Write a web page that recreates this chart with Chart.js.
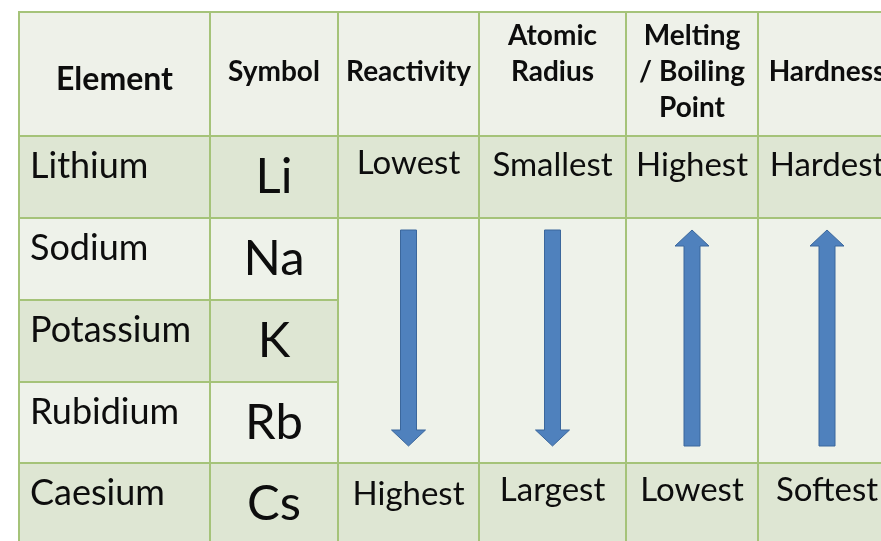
<!DOCTYPE html>
<html>
<head>
<meta charset="utf-8">
<script src="https://cdn.jsdelivr.net/npm/chart.js@4"></script>
<style>
  html, body { margin: 0; padding: 0; background: #ffffff; }
  #wrap { width: 881px; height: 541px; }
</style>
</head>
<body>
<div id="wrap"><canvas id="chart" width="881" height="541"></canvas></div>
<script>
// Table content
const headers = ['Element', 'Symbol', 'Reactivity', 'Atomic\nRadius', 'Melting\n/ Boiling\nPoint', 'Hardness'];
const elements = ['Lithium', 'Sodium', 'Potassium', 'Rubidium', 'Caesium'];
const symbols = ['Li', 'Na', 'K', 'Rb', 'Cs'];
const topLabels = ['Lowest', 'Smallest', 'Highest', 'Hardest'];
const bottomLabels = ['Highest', 'Largest', 'Lowest', 'Softest'];
const trend = ['down', 'down', 'up', 'up'];

// Layout of the grid (in scale units, 1 unit = 1px here)
const colEdges = [19, 210, 338, 479, 626, 758, 896];
const rowEdges = [12, 136, 218, 300, 382, 463, 545];

const COLORS = {
    header: '#eef1e9',
    light: '#eef2ea',
    green: '#dee6d3',
    border: '#a5c379',
    text: '#0d0d0d',
    arrow: '#4f81bd',
    arrowEdge: '#3b679c'
};
const FONT = 'Lato, "Open Sans", sans-serif';

function fillCell(ctx, x, y, c0, c1, r0, r1, color) {
    const left = x.getPixelForValue(colEdges[c0]);
    const right = x.getPixelForValue(colEdges[c1]);
    const top = y.getPixelForValue(rowEdges[r0]);
    const bottom = y.getPixelForValue(rowEdges[r1]);
    ctx.fillStyle = color;
    ctx.fillRect(left, top, right - left, bottom - top);
}

function hLine(ctx, x, y, r, c0, c1) {
    ctx.beginPath();
    ctx.moveTo(x.getPixelForValue(colEdges[c0]) - 1, y.getPixelForValue(rowEdges[r]));
    ctx.lineTo(x.getPixelForValue(colEdges[c1]) + 1, y.getPixelForValue(rowEdges[r]));
    ctx.stroke();
}

function vLine(ctx, x, y, c) {
    ctx.beginPath();
    ctx.moveTo(x.getPixelForValue(colEdges[c]), y.getPixelForValue(rowEdges[0]) - 1);
    ctx.lineTo(x.getPixelForValue(colEdges[c]), y.getPixelForValue(rowEdges[rowEdges.length - 1]));
    ctx.stroke();
}

function colCenter(x, c) {
    return (x.getPixelForValue(colEdges[c]) + x.getPixelForValue(colEdges[c + 1])) / 2;
}

function drawArrow(ctx, cx, top, bottom, dir) {
    const shaft = 8, head = 17, headLen = 16;
    ctx.beginPath();
    if (dir === 'down') {
        ctx.moveTo(cx - shaft, top);
        ctx.lineTo(cx + shaft, top);
        ctx.lineTo(cx + shaft, bottom - headLen);
        ctx.lineTo(cx + head, bottom - headLen);
        ctx.lineTo(cx, bottom);
        ctx.lineTo(cx - head, bottom - headLen);
        ctx.lineTo(cx - shaft, bottom - headLen);
    } else {
        ctx.moveTo(cx - shaft, bottom);
        ctx.lineTo(cx + shaft, bottom);
        ctx.lineTo(cx + shaft, top + headLen);
        ctx.lineTo(cx + head, top + headLen);
        ctx.lineTo(cx, top);
        ctx.lineTo(cx - head, top + headLen);
        ctx.lineTo(cx - shaft, top + headLen);
    }
    ctx.closePath();
    ctx.fillStyle = COLORS.arrow;
    ctx.fill();
    ctx.lineWidth = 1;
    ctx.strokeStyle = COLORS.arrowEdge;
    ctx.stroke();
}

const tablePlugin = {
    id: 'tablePlugin',
    beforeDatasetsDraw(chart) {
        const { ctx, scales: { x, y } } = chart;
        const nCols = colEdges.length - 1;
        ctx.save();

        // backgrounds
        fillCell(ctx, x, y, 0, nCols, 0, 1, COLORS.header);
        elements.forEach((el, r) => {
            const col = r % 2 === 0 ? COLORS.green : COLORS.light;
            fillCell(ctx, x, y, 0, 2, r + 1, r + 2, col);
        });
        fillCell(ctx, x, y, 2, nCols, 1, 2, COLORS.green);
        fillCell(ctx, x, y, 2, nCols, 2, 5, COLORS.light);
        fillCell(ctx, x, y, 2, nCols, 5, 6, COLORS.green);

        // grid lines
        ctx.strokeStyle = COLORS.border;
        ctx.lineWidth = 2;
        for (let c = 0; c < colEdges.length; c++) vLine(ctx, x, y, c);
        [0, 1, 2, 5].forEach(r => hLine(ctx, x, y, r, 0, nCols));
        [3, 4].forEach(r => hLine(ctx, x, y, r, 0, 2));

        // header text
        ctx.fillStyle = COLORS.text;
        ctx.textAlign = 'center';
        ctx.textBaseline = 'alphabetic';
        headers.forEach((h, c) => {
            const lines = h.split('\n');
            ctx.font = (c === 0 ? 'bold 32px ' : 'bold 28px ') + FONT;
            lines.forEach((ln, i) => {
                let by;
                if (lines.length === 1) by = c === 0 ? 90 : 81;
                else by = 45 + i * 36;
                ctx.fillText(ln, colCenter(x, c), y.getPixelForValue(by));
            });
        });

        // element names and symbols
        elements.forEach((el, r) => {
            const rowTop = y.getPixelForValue(rowEdges[r + 1]);
            ctx.font = '36px ' + FONT;
            ctx.textAlign = 'left';
            ctx.fillText(el, x.getPixelForValue(colEdges[0]) + 11, rowTop + 42);
            ctx.font = '49px ' + FONT;
            ctx.textAlign = 'center';
            ctx.fillText(symbols[r], colCenter(x, 1), rowTop + 57);
        });

        // property trend columns
        ctx.font = '33px ' + FONT;
        ctx.textAlign = 'center';
        const topRow = y.getPixelForValue(rowEdges[1]);
        const lastRow = y.getPixelForValue(rowEdges[5]);
        topLabels.forEach((t, i) => {
            ctx.fillText(t, colCenter(x, i + 2), topRow + (i === 0 ? 38 : 40));
        });
        bottomLabels.forEach((t, i) => {
            ctx.fillText(t, colCenter(x, i + 2), lastRow + (i === 0 ? 42 : 38));
        });
        const aTop = y.getPixelForValue(rowEdges[2]) + 12;
        const aBottom = y.getPixelForValue(rowEdges[5]) - 17;
        trend.forEach((d, i) => {
            drawArrow(ctx, colCenter(x, i + 2), aTop, aBottom, d);
        });

        ctx.restore();
    }
};

document.fonts.load('36px Lato').then(() => {
    new Chart(document.getElementById('chart'), {
        type: 'scatter',
        data: { datasets: [{ data: [] }] },
        options: {
            responsive: false,
            devicePixelRatio: 1,
            animation: false,
            layout: { padding: 0 },
            plugins: { legend: { display: false }, tooltip: { enabled: false } },
            scales: {
                x: { type: 'linear', min: 0, max: 881, display: false },
                y: { type: 'linear', min: 0, max: 541, reverse: true, display: false }
            }
        },
        plugins: [tablePlugin]
    });
});
</script>
</body>
</html>
